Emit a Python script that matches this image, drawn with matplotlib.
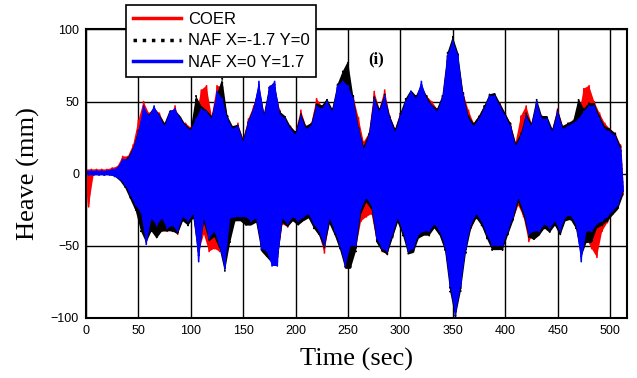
import matplotlib.pyplot as plt
import numpy as np
from matplotlib.ticker import MultipleLocator

# 升沉时程 (envelope read every 5 s: crest at t, trough half a step later)
t = np.arange(0, 515, 5)
t_trough = t + 2.5

coer_up = [3, 3, 3, 3, 3, 4, 5, 12, 12, 20,
           37, 50, 42, 45, 42, 35, 40, 47, 36, 35,
           32, 40, 58, 61, 40, 61, 60, 40, 30, 35,
           24, 38, 47, 60, 42, 58, 60, 44, 36, 33,
           29, 44, 33, 35, 52, 47, 48, 45, 58, 62,
           58, 54, 39, 22, 28, 57, 45, 58, 40, 31,
           42, 48, 55, 54, 60, 54, 50, 45, 50, 80,
           88, 80, 56, 44, 35, 40, 47, 52, 52, 49,
           42, 35, 22, 40, 47, 35, 48, 40, 36, 31,
           45, 33, 35, 37, 40, 59, 61, 50, 42, 35,
           31, 28, 20]
coer_lo = [-23, 0, 0, 0, 0, -1, -3, -7, -14, -24,
           -30, -47, -33, -40, -40, -40, -38, -42, -32, -35,
           -30, -55, -42, -54, -52, -54, -52, -43, -32, -32,
           -32, -35, -33, -50, -52, -60, -60, -35, -37, -32,
           -35, -32, -30, -37, -42, -55, -33, -42, -48, -60,
           -48, -52, -33, -30, -28, -47, -54, -56, -44, -33,
           -42, -52, -50, -44, -42, -42, -37, -42, -52, -76,
           -94, -76, -50, -38, -30, -35, -44, -48, -48, -52,
           -42, -32, -22, -30, -47, -42, -42, -37, -40, -35,
           -42, -32, -31, -37, -55, -45, -52, -58, -40, -34,
           -28, -24, -14]

naf1_up = [1, 1, 1, 1, 1, 2, 4, 9, 11, 18,
           30, 44, 41, 46, 41, 35, 44, 44, 40, 34,
           31, 54, 47, 44, 40, 55, 66, 40, 33, 34,
           24, 37, 46, 62, 42, 61, 62, 43, 40, 33,
           29, 42, 33, 35, 49, 47, 52, 45, 62, 71,
           78, 54, 33, 19, 28, 54, 45, 55, 40, 31,
           42, 52, 58, 54, 62, 54, 48, 45, 54, 84,
           95, 84, 56, 40, 35, 40, 47, 55, 56, 49,
           42, 35, 21, 28, 42, 35, 52, 40, 40, 31,
           45, 33, 35, 37, 52, 45, 49, 49, 40, 33,
           31, 28, 19]
naf1_lo = [-1, -1, -1, -1, -1, -2, -5, -10, -18, -26,
           -40, -48, -40, -45, -40, -40, -40, -42, -33, -36,
           -31, -58, -34, -47, -44, -52, -68, -48, -33, -33,
           -36, -36, -34, -54, -58, -62, -62, -34, -37, -33,
           -36, -33, -31, -38, -43, -52, -35, -43, -53, -66,
           -66, -54, -28, -20, -25, -48, -54, -56, -45, -34,
           -43, -56, -55, -45, -43, -43, -38, -43, -53, -82,
           -100, -82, -55, -38, -31, -36, -45, -53, -53, -53,
           -43, -33, -20, -29, -44, -46, -43, -38, -41, -36,
           -43, -33, -32, -38, -58, -48, -48, -38, -36, -33,
           -29, -25, -15]

naf2_up = [2, 2, 2, 2, 2, 3, 4, 10, 10, 17,
           29, 47, 40, 47, 40, 33, 43, 45, 38, 33,
           30, 38, 45, 43, 38, 57, 52, 38, 31, 33,
           22, 36, 45, 64, 40, 60, 64, 41, 38, 31,
           27, 40, 31, 33, 47, 45, 50, 43, 61, 64,
           61, 52, 31, 17, 26, 52, 43, 54, 38, 29,
           40, 50, 57, 52, 64, 52, 47, 43, 52, 82,
           92, 82, 54, 38, 33, 38, 45, 54, 54, 47,
           40, 33, 19, 26, 40, 33, 50, 38, 38, 29,
           43, 31, 33, 35, 38, 43, 47, 47, 38, 31,
           29, 26, 17]
naf2_lo = [-1, -1, -1, -1, -1, -2, -4, -8, -15, -22,
           -27, -49, -31, -36, -31, -38, -36, -40, -30, -33,
           -28, -61, -31, -45, -40, -50, -66, -31, -30, -30,
           -30, -33, -31, -52, -54, -64, -64, -31, -35, -30,
           -33, -30, -28, -35, -40, -50, -31, -40, -50, -64,
           -50, -50, -24, -17, -22, -45, -52, -54, -42, -31,
           -40, -54, -52, -42, -40, -40, -35, -40, -50, -78,
           -98, -78, -52, -35, -28, -33, -42, -50, -50, -50,
           -40, -30, -17, -26, -42, -40, -40, -35, -38, -33,
           -40, -30, -29, -35, -61, -40, -40, -35, -33, -30,
           -26, -22, -12]


def draw_series(ax, up, lo, color, label, ls, z):
    # 包络填充 + 锯齿线
    ax.fill(np.r_[t, t_trough[::-1]], np.r_[up, lo[::-1]], color=color, lw=0, zorder=z)
    x = np.column_stack([t, t_trough]).ravel()
    y = np.column_stack([up, lo]).ravel()
    ax.plot(x, y, color=color, label=label, lw=1.2, linestyle=ls, zorder=z + 0.5)


fig = plt.figure(figsize=(6.37, 3.78), dpi=100)
ax = fig.add_axes([0.135, 0.159, 0.849, 0.763])

draw_series(ax, coer_up, coer_lo, "red", "COER", "-", 2)
draw_series(ax, naf1_up, naf1_lo, "black", "NAF X=-1.7 Y=0", ":", 3)
draw_series(ax, naf2_up, naf2_lo, "blue", "NAF X=0 Y=1.7", "-", 4)

ax.set_xlim(0, 516)
ax.set_ylim(-100, 100)
ax.xaxis.set_major_locator(MultipleLocator(50))
ax.yaxis.set_major_locator(MultipleLocator(50))
ax.set_axisbelow(True)
ax.grid(True, color="black", lw=1, linestyle="-")
ax.tick_params(length=0, labelsize=9, pad=5)
for lab in ax.get_xticklabels() + ax.get_yticklabels():
    lab.set_fontfamily("Liberation Sans")
for sp in ax.spines.values():
    sp.set_linewidth(1.5)
    sp.set_zorder(6)

ax.set_xlabel("Time (sec)", fontfamily="Liberation Serif", fontsize=19, labelpad=8)
ax.set_ylabel("Heave (mm)", fontfamily="Liberation Serif", fontsize=19, labelpad=8)

ax.text(277, 79, "(i)", fontfamily="Liberation Serif", fontweight="bold",
        fontsize=12, ha="center", va="center", zorder=7)

leg = ax.legend(loc="upper left", bbox_to_anchor=(126 / 637, 1 - 5 / 378),
                bbox_transform=fig.transFigure, borderaxespad=0,
                prop={"family": "Liberation Sans", "size": 12},
                handlelength=2.9, handletextpad=0.4, labelspacing=0.4,
                borderpad=0.4, fancybox=False, framealpha=1, edgecolor="black")
leg.get_frame().set_linewidth(1.2)
leg.set_zorder(10)
for h in leg.legend_handles:
    h.set_linewidth(2.5)

fig.savefig("out.png", dpi=100)
